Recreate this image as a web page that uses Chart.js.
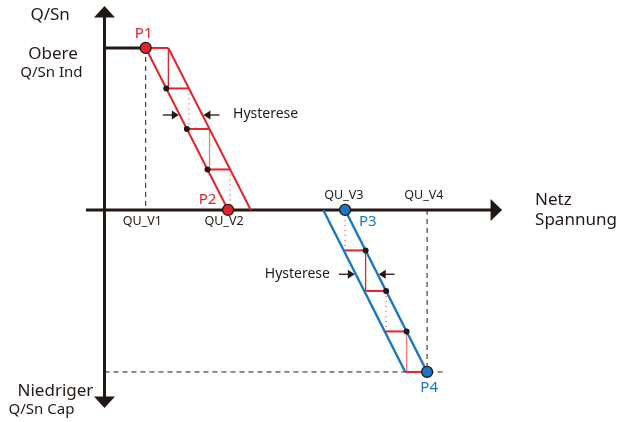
<!DOCTYPE html>
<html><head><meta charset="utf-8">
<script src="https://cdn.jsdelivr.net/npm/chart.js@4"></script>
<style>html,body{margin:0;padding:0;background:#fff}canvas{display:block}</style>
</head><body>
<canvas id="c" width="621" height="422"></canvas>
<script>
// ---- data ----
const voltageLabels = ['QU_V1', 'QU_V2', 'QU_V3', 'QU_V4'];
const voltageValues = [10, 30, 58.4, 78.3];          // grid voltage positions
const qLevels = [1, 0.75, 0.5, 0.25, 0];              // Q/Sn steps (inductive side)
const qLevelsCap = [0, -0.25, -0.5, -0.75, -1];       // Q/Sn steps (capacitive side)
const hysteresisWidth = [5.5, 5.3];                   // upper, lower
const pointLabels = ['P1', 'P2', 'P3', 'P4'];
const xAxisRange = [-4.5, 96.5];
const yAxisRange = [-1.222, 1.259];
const hystArrowQ = [0.586, -0.397];
const dashEndX = 82.2;

const RED = '#e2232a', BLUE = '#1b77c2', BLACK = '#231815', PINK = '#ee7a7e';
const [V1, V2, V3, V4] = voltageValues;
const hU = hysteresisWidth[0], hL = hysteresisWidth[1];
const leftU = q => V1 + (V2 - V1) * (1 - q);
const rightL = q => V3 + (V4 - V3) * (-q);

const datasets = [];
function seg(pts, color, width, dash, order) {
  datasets.push({ data: pts.map(([x, y]) => ({ x, y })), showLine: true, borderColor: color,
    borderWidth: width, borderDash: dash || [], pointRadius: 0, pointHoverRadius: 0,
    fill: false, order: order, borderCapStyle: 'butt' });
}
function dots(pts, fill, radius, border, bw, order) {
  datasets.push({ data: pts.map(([x, y]) => ({ x, y })), showLine: false, pointRadius: radius,
    backgroundColor: fill, borderColor: border, borderWidth: bw, order: order, pointHoverRadius: radius });
}

// main points
dots([[V1, qLevels[0]], [V2, qLevels[4]]], RED, 5.5, BLACK, 1.3, 0);
dots([[V3, qLevelsCap[0]], [V4, qLevelsCap[4]]], BLUE, 5.5, BLACK, 1.3, 0);
// black step dots
dots(qLevels.slice(1, 4).map(q => [leftU(q), q]), BLACK, 3, BLACK, 0, 1);
dots(qLevelsCap.slice(1, 4).map(q => [rightL(q), q]), BLACK, 3, BLACK, 0, 1);

// upper (red) hysteresis band
seg([[V1, 1], [V2, 0]], RED, 2, null, 2);
seg([[V1 + hU, 1], [V2 + hU, 0]], RED, 2, null, 2);
seg([[V1, 1], [V1 + hU, 1]], RED, 2, null, 2);
for (let i = 1; i <= 3; i++) { const q = qLevels[i]; seg([[leftU(q), q], [leftU(q) + hU, q]], RED, 2, null, 3); }
for (let i = 0; i <= 3; i++) {
  const x = leftU(qLevels[i]) + hU;
  if (i % 2 === 0) seg([[x, qLevels[i]], [x, qLevels[i + 1]]], i === 0 ? RED : PINK, 1.3, null, 4);
  else seg([[x, qLevels[i]], [x, qLevels[i + 1]]], RED, 1, [1, 4], 4);
}
// lower (blue) hysteresis band
seg([[V3, 0], [V4, -1]], BLUE, 2.4, null, 2);
seg([[V3 - hL, 0], [V4 - hL, -1]], BLUE, 2.4, null, 2);
for (let i = 1; i <= 4; i++) { const q = qLevelsCap[i]; seg([[rightL(q) - hL, q], [rightL(q), q]], RED, 2, null, 3); }
for (let i = 0; i <= 3; i++) {
  const x = rightL(qLevelsCap[i]);
  if (i % 2 === 1) seg([[x, qLevelsCap[i]], [x, qLevelsCap[i + 1]]], i === 1 ? RED : PINK, 1.3, null, 4);
  else seg([[x, qLevelsCap[i]], [x, qLevelsCap[i + 1]]], RED, 1, [1, 4], 4);
}
// dashed guides
seg([[V1, 1], [V1, 0]], BLACK, 1, [5, 4], 5);
seg([[V4, 0], [V4, -1]], BLACK, 1, [5, 4], 5);
seg([[0, -1], [dashEndX, -1]], BLACK, 1, [5, 4], 5);
// upper limit line
seg([[0, 1], [V1, 1]], BLACK, 3, null, 5);
// axes
seg([[xAxisRange[0], 0], [xAxisRange[1] - 2, 0]], BLACK, 3, null, 6);
seg([[0, yAxisRange[0] + 0.04], [0, yAxisRange[1] - 0.04]], BLACK, 3, null, 6);

const texts = [
  ['Q/Sn', -13.2, 1.204, 17, BLACK, 'center'],
  ['Obere', -12.5, 0.963, 17, BLACK, 'center'],
  ['Q/Sn Ind', -12.9, 0.846, 15, BLACK, 'center'],
  [pointLabels[0], 9.5, 1.09, 15, RED, 'center'],
  [pointLabels[1], 25.0, 0.062, 15, RED, 'center'],
  [pointLabels[2], 63.9, -0.072, 15, BLUE, 'center'],
  [pointLabels[3], 78.8, -1.099, 15, BLUE, 'center'],
  [voltageLabels[0], 9.2, -0.074, 12.5, BLACK, 'center'],
  [voltageLabels[1], 29.0, -0.074, 12.5, BLACK, 'center'],
  [voltageLabels[2], 58.1, 0.090, 12.5, BLACK, 'center'],
  [voltageLabels[3], 77.5, 0.090, 12.5, BLACK, 'center'],
  ['Hysterese', 31.2, 0.593, 14, BLACK, 'left'],
  ['Hysterese', 38.9, -0.398, 14, BLACK, 'left'],
  ['Netz', 104.5, 0.062, 17, BLACK, 'left'],
  ['Spannung', 104.5, -0.062, 17, BLACK, 'left'],
  ['Niedriger', -11.9, -1.117, 17, BLACK, 'center'],
  ['Q/Sn Cap', -15.3, -1.235, 15, BLACK, 'center'],
];

const decor = {
  id: 'decor',
  afterDatasetsDraw(chart) {
    const ctx = chart.ctx, xs = chart.scales.x, ys = chart.scales.y;
    const X = v => xs.getPixelForValue(v), Y = v => ys.getPixelForValue(v);
    ctx.save();
    ctx.fillStyle = BLACK;
    const ty = Y(yAxisRange[1]), ax = X(0);
    ctx.beginPath(); ctx.moveTo(ax, ty); ctx.lineTo(ax - 10.5, ty + 11.5); ctx.lineTo(ax + 10.5, ty + 11.5); ctx.closePath(); ctx.fill();
    const by = Y(yAxisRange[0]);
    ctx.beginPath(); ctx.moveTo(ax, by); ctx.lineTo(ax - 10.5, by - 11.5); ctx.lineTo(ax + 10.5, by - 11.5); ctx.closePath(); ctx.fill();
    const tx = X(xAxisRange[1]), ay = Y(0);
    ctx.beginPath(); ctx.moveTo(tx, ay); ctx.lineTo(tx - 11.5, ay - 11); ctx.lineTo(tx - 11.5, ay + 11); ctx.closePath(); ctx.fill();
    function arrow(tipX, y, dir) {
      ctx.strokeStyle = BLACK; ctx.lineWidth = 1.3;
      ctx.beginPath(); ctx.moveTo(tipX - dir * 16, y); ctx.lineTo(tipX - dir * 5, y); ctx.stroke();
      ctx.beginPath(); ctx.moveTo(tipX, y); ctx.lineTo(tipX - dir * 7, y - 4.5); ctx.lineTo(tipX - dir * 7, y + 4.5); ctx.closePath(); ctx.fill();
    }
    const qa = hystArrowQ[0], qb = hystArrowQ[1];
    arrow(X(leftU(qa)) - 1, Y(qa), 1);
    arrow(X(leftU(qa) + hU) + 1, Y(qa), -1);
    arrow(X(rightL(qb) - hL) - 1, Y(qb), 1);
    arrow(X(rightL(qb)) + 1, Y(qb), -1);
    ctx.textBaseline = 'middle';
    for (const [t, x, y, size, color, align] of texts) {
      ctx.font = size + 'px "Noto Sans", sans-serif';
      ctx.fillStyle = color; ctx.textAlign = align;
      ctx.fillText(t, X(x), Y(y));
    }
    ctx.restore();
  }
};

new Chart(document.getElementById('c'), {
  type: 'scatter',
  data: { datasets },
  options: {
    responsive: false, animation: false, devicePixelRatio: 1,
    layout: { padding: 0, autoPadding: false },
    plugins: { legend: { display: false }, tooltip: { enabled: false } },
    events: [],
    scales: {
      x: { type: 'linear', display: false, min: -25.36, max: 125.36 },
      y: { type: 'linear', display: false, min: -1.309, max: 1.296 }
    }
  },
  plugins: [decor]
});
</script>
</body></html>
